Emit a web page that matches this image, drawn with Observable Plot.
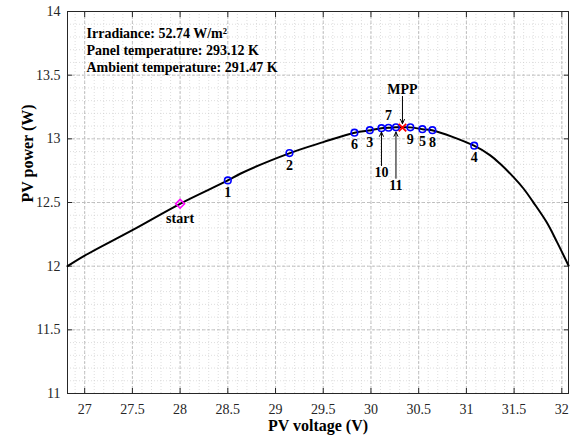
<!DOCTYPE html>
<html>
<head>
<meta charset="utf-8">
<script src="https://cdn.jsdelivr.net/npm/d3@7"></script>
<script src="https://cdn.jsdelivr.net/npm/@observablehq/plot@0.6"></script>
<style>
  html, body { margin: 0; padding: 0; background: white; }
  #chart { width: 579px; height: 437px; }
</style>
</head>
<body>
<div id="chart"></div>
<script>
// P-V curve
const curveV = [26.82, 27.0, 27.5, 28.0, 28.5, 28.63, 29.15, 29.5, 29.83, 30.0, 30.11, 30.26, 30.33, 30.41, 30.54, 30.64, 31.08, 31.25, 31.354, 31.494, 31.60, 31.70, 31.84, 31.95, 32.07];
const curveP = [12.00, 12.083, 12.283, 12.49, 12.673, 12.726, 12.888, 12.974, 13.048, 13.068, 13.084, 13.090, 13.091, 13.090, 13.076, 13.068, 12.946, 12.870, 12.804, 12.699, 12.608, 12.503, 12.346, 12.189, 12.005];

// tracked operating points
const pointLabels = ["1", "2", "3", "4", "5", "6", "7", "8", "9", "10", "11"];
const pointV = [28.5, 29.146, 29.988, 31.082, 30.539, 29.827, 30.184, 30.644, 30.413, 30.110, 30.262];
const pointP = [12.673, 12.888, 13.068, 12.946, 13.076, 13.048, 13.087, 13.068, 13.090, 13.084, 13.090];
const labelSide = ["below", "below", "below", "below", "below", "below", "above", "below", "below", "arrow", "arrow"];

const startV = 28.0, startP = 12.49;
const mppV = 30.33, mppP = 13.088;

// arrow annotations
const arrowLabels = ["10", "11", "MPP"];
const arrowV = [30.110, 30.262, 30.33];
const arrowTail = [12.79, 12.69, 13.333];
const arrowHead = [13.053, 13.053, 13.119];
const arrowTextP = [12.735, 12.635, 13.39];

const infoLines = ["Irradiance: 52.74 W/m²", "Panel temperature: 293.12 K", "Ambient temperature: 291.47 K"];

const xTicks = [27, 27.5, 28, 28.5, 29, 29.5, 30, 30.5, 31, 31.5, 32];
const yTicks = [11, 11.5, 12, 12.5, 13, 13.5, 14];
const xMinor = d3.range(269, 321).map(d => d / 10);
const yMinor = d3.range(110, 141).map(d => d / 10);

const curve = curveV.map((v, i) => ({v, p: curveP[i]}));
const pts = pointLabels.map((l, i) => ({l, v: pointV[i], p: pointP[i], side: labelSide[i]}));
const arrows = arrowLabels.map((l, i) => ({l, v: arrowV[i], t: arrowTail[i], h: arrowHead[i], tp: arrowTextP[i]}));
const info = infoLines.map((t, i) => ({t, i}));

const bold = {fontWeight: "bold", fill: "black", fontSize: 14};

const chart = Plot.plot({
  width: 579,
  height: 437,
  marginLeft: 67,
  marginRight: 11,
  marginTop: 11,
  marginBottom: 44,
  x: {domain: [26.82, 32.07]},
  y: {domain: [11, 14]},
  style: {fontFamily: "'Liberation Serif', 'Times New Roman', serif", fontSize: "14px", background: "white", color: "#262626"},
  marks: [
    Plot.gridX(xMinor, {stroke: "#c8c8c8", strokeOpacity: 1, strokeDasharray: "1,2", strokeWidth: 0.6}),
    Plot.gridY(yMinor, {stroke: "#c8c8c8", strokeOpacity: 1, strokeDasharray: "1,2", strokeWidth: 0.6}),
    Plot.gridX(xTicks, {stroke: "#b4b4b4", strokeOpacity: 1, strokeDasharray: "3,2", strokeWidth: 0.8}),
    Plot.gridY(yTicks, {stroke: "#b4b4b4", strokeOpacity: 1, strokeDasharray: "3,2", strokeWidth: 0.8}),
    Plot.axisX({ticks: xTicks, tickSize: -5, tickPadding: 16, tickFormat: d => String(d), label: null, fontFamily: "'Liberation Serif', serif"}),
    Plot.axisX({anchor: "top", ticks: xTicks, tickSize: -5, tickFormat: () => "", label: null}),
    Plot.axisY({ticks: yTicks, tickSize: -5, tickPadding: 12, tickFormat: d => String(d), label: null, fontFamily: "'Liberation Serif', serif"}),
    Plot.axisY({anchor: "right", ticks: yTicks, tickSize: -5, tickFormat: () => "", label: null}),
    Plot.frame({stroke: "#262626", strokeWidth: 1}),
    Plot.line(curve, {x: "v", y: "p", stroke: "black", strokeWidth: 2, curve: "catmull-rom"}),
    Plot.dot(pts, {x: "v", y: "p", r: 3.3, stroke: "#0000ff", strokeWidth: 1.6, fill: "none"}),
    Plot.dot([{v: startV, p: startP}], {x: "v", y: "p", symbol: "diamond2", r: 4, stroke: "#ff00ff", strokeWidth: 1.6, fill: "none"}),
    Plot.dot([{v: mppV, p: mppP}], {x: "v", y: "p", symbol: "times", r: 3.5, stroke: "red", strokeWidth: 1.8}),
    Plot.text(pts.filter(d => d.side === "below"), {x: "v", y: "p", text: "l", dy: 12, ...bold}),
    Plot.text(pts.filter(d => d.side === "above"), {x: "v", y: "p", text: "l", dy: -12, ...bold}),
    Plot.text([{v: startV, p: startP}], {x: "v", y: "p", text: () => "start", dy: 15, ...bold}),
    Plot.arrow(arrows, {x1: "v", x2: "v", y1: "t", y2: "h", stroke: "black", strokeWidth: 1, headLength: 7, headAngle: 50}),
    Plot.text(arrows, {x: "v", y: "tp", text: "l", ...bold}),
    Plot.text(info.slice(0, 1), {frameAnchor: "top-left", text: "t", dx: 19, dy: 17, textAnchor: "start", ...bold}),
    Plot.text(info.slice(1, 2), {frameAnchor: "top-left", text: "t", dx: 19, dy: 34, textAnchor: "start", ...bold}),
    Plot.text(info.slice(2, 3), {frameAnchor: "top-left", text: "t", dx: 19, dy: 51, textAnchor: "start", ...bold}),
    Plot.text(["PV voltage (V)"], {frameAnchor: "bottom", dy: 37, fontWeight: "bold", fontSize: 16, fill: "black"}),
    Plot.text(["PV power (W)"], {frameAnchor: "left", dx: -40, rotate: -90, fontWeight: "bold", fontSize: 16, fill: "black"})
  ]
});
document.getElementById("chart").appendChild(chart);
</script>
</body>
</html>
